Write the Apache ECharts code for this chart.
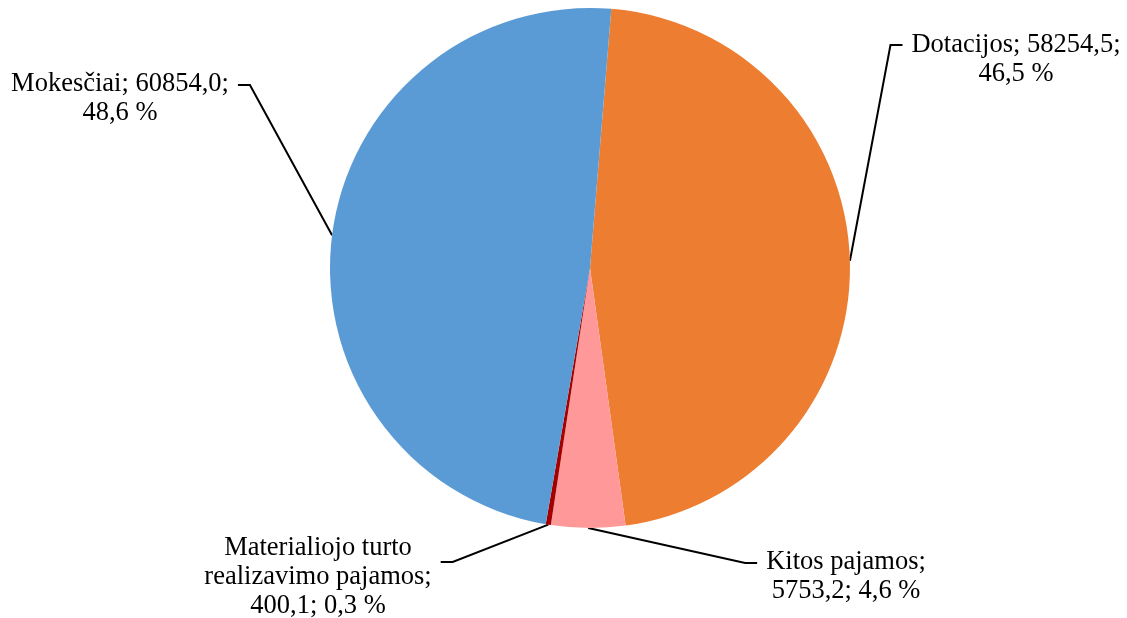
<!DOCTYPE html>
<html>
<head>
<meta charset="utf-8">
<script src="https://cdn.jsdelivr.net/npm/echarts@6/dist/echarts.min.js"></script>
<style>
  html, body { margin: 0; padding: 0; background: #fff; }
  #main { width: 1127px; height: 618px; }
</style>
</head>
<body>
<div id="main"></div>
<script>
// pajamu struktura
const names = ['Dotacijos', 'Kitos pajamos', 'Materialiojo turto\nrealizavimo pajamos', 'Mokesčiai']
const values = [58254.5, 5753.2, 400.1, 60854.0]
const colors = ['#ED7D31', '#FF9999', '#A50000', '#5B9BD5']
// kur laužti etiketę: po reikšmės ar po pavadinimo
const wrapAfterName = [false, true, true, false]

// etikečių vietos (centras) ir linijos pusė
const labelPos = [
  { x: 1016, y: 60, side: 'left', ly: 45 },
  { x: 846, y: 577, side: 'left', ly: 563 },
  { x: 318, y: 577, side: 'right', ly: 562 },
  { x: 120, y: 99, side: 'right', ly: 85 }
]

function num(v, d) {
  return v.toFixed(d).replace('.', ',')
}

const total = values.reduce((a, b) => a + b, 0)
const myChart = echarts.init(document.getElementById('main'))

const option = {
  animation: false,
  color: colors,
  series: [{
    type: 'pie',
    center: [590, 268],
    radius: 260,
    startAngle: 85.3,
    clockwise: true,
    data: names.map((n, i) => ({ name: n, value: values[i] })),
    label: {
      show: true,
      position: 'outside',
      fontFamily: '"Liberation Serif", "Times New Roman", serif',
      fontSize: 26.5,
      lineHeight: 29,
      color: '#000',
      align: 'center',
      formatter: function (p) {
        const pct = num(p.value / total * 100, 1) + ' %'
        const val = num(p.value, 1)
        if (wrapAfterName[p.dataIndex]) {
          return p.name + ';\n' + val + '; ' + pct
        }
        return p.name + '; ' + val + ';\n' + pct
      }
    },
    labelLine: {
      show: true,
      lineStyle: { color: '#000', width: 2 }
    },
    labelLayout: function (params) {
      const pos = labelPos[params.dataIndex]
      const w = params.labelRect.width
      // linijos galas prie teksto
      let endX
      let elbowX
      if (pos.side === 'left') {
        endX = pos.x - w / 2 - 9
        elbowX = endX - 12
      } else {
        endX = pos.x + w / 2 + 9
        elbowX = endX + 12
      }
      // pirmasis taskas - ant skilties krasto
      const anchor = params.labelLinePoints ? params.labelLinePoints[0] : [0, 0]
      return {
        x: pos.x,
        y: pos.y,
        align: 'center',
        verticalAlign: 'middle',
        labelLinePoints: [anchor, [elbowX, pos.ly], [endX, pos.ly]]
      }
    },
    itemStyle: {
      borderWidth: 0
    },
    emphasis: { disabled: true }
  }]
}
myChart.setOption(option)
</script>
</body>
</html>
